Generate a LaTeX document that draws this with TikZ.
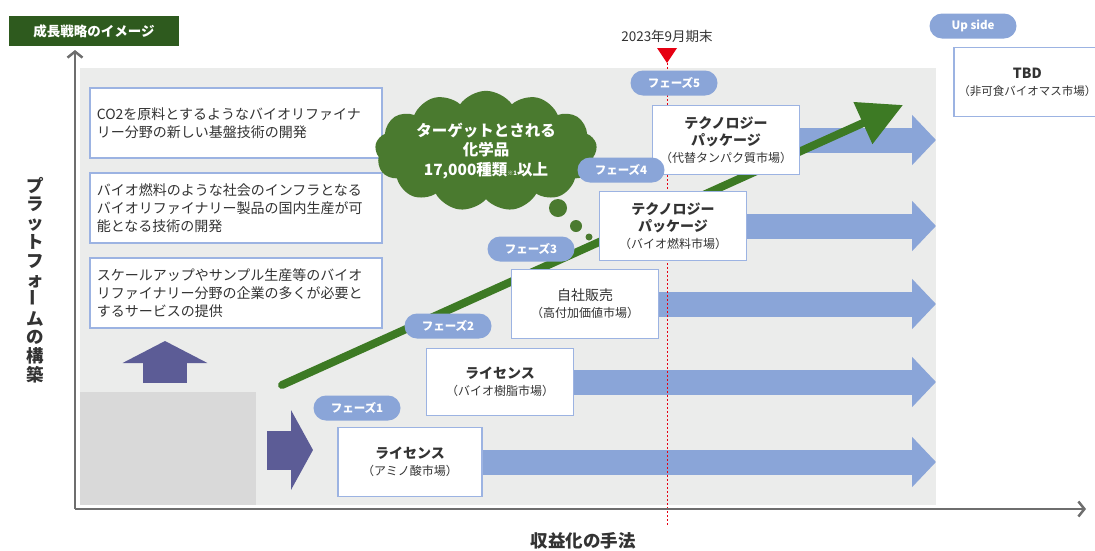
\documentclass[tikz,border=0pt]{standalone}
\usepackage{fontspec}
\setmainfont{Noto Sans CJK JP}
\usetikzlibrary{arrows.meta, shapes.symbols, positioning}

\definecolor{bggray}{HTML}{EBECEB}
\definecolor{basegray}{HTML}{D9D9D9}
\definecolor{boxline}{HTML}{9CB3E2}
\definecolor{flowblue}{HTML}{8AA5D8}
\definecolor{pushpurple}{HTML}{5C5C96}
\definecolor{growgreen}{HTML}{3D7A24}
\definecolor{cloudgreen}{HTML}{4A7A2F}
\definecolor{titlegreen}{HTML}{2E5A1E}
\definecolor{axisgray}{HTML}{6E6E6E}
\definecolor{textgray}{HTML}{333333}
\definecolor{datered}{HTML}{E60012}

\pgfdeclarelayer{back}
\pgfdeclarelayer{flows}
\pgfsetlayers{back,flows,main}

\newcommand{\fs}[2]{\fontsize{#1}{#2}\selectfont}
\newcommand{\mkt}[2]{#1\\\mdseries\fs{12}{16}#2}

\tikzset{
  goalbox/.style={draw=boxline, line width=1.6pt, fill=white, text=textgray,
    align=left, text width=278pt, inner sep=7pt, minimum height=70pt,
    anchor=north west, font=\fs{14}{18}},
  market/.style={draw=boxline, line width=1.6pt, fill=white, text=textgray,
    align=center, minimum width=147pt, minimum height=69pt, inner sep=2pt,
    font=\bfseries\fs{14}{17}},
  phase/.style={fill=flowblue, rounded corners=12.5pt, text=white,
    minimum width=87pt, minimum height=25pt, inner sep=0pt,
    font=\bfseries\fs{11.5}{12}},
  flow/.style={flowblue, line width=25pt, -{Triangle[length=24pt,width=49pt]}},
  push/.style={pushpurple, line width=#1},
  growth/.style={growgreen, line width=8pt, line cap=round,
    -{Triangle[length=44pt,width=44pt]}},
  axis/.style={axisgray, line width=2.5pt, -{Straight Barb[length=6pt,width=15pt]}},
}

\begin{document}
\begin{tikzpicture}[x=1pt,y=-1pt]
  \useasboundingbox (0,0) rectangle (1095,550);

  % Background
  \begin{pgfonlayer}{back}
    \fill[bggray] (80,68) rectangle (936,505);
    \fill[basegray] (80,392) rectangle (256,505);
  \end{pgfonlayer}

  % Axes
  \coordinate (origin) at (75,509);
  \coordinate (ytop) at (75,50);
  \coordinate (xend) at (1086,509);
  \draw[axis] (origin) -- (ytop);
  \draw[axis] (origin) -- (xend);

  \node[fill=titlegreen, text=white, minimum width=170pt, minimum height=30pt,
    inner sep=0pt, font=\bfseries\fs{13.5}{14}] (title) at (94,31) {成長戦略のイメージ};

  \node[text=textgray, align=center, font=\bfseries\fs{17.5}{18.8}] (ylabel) at (35,280)
    {プ\\ラ\\ッ\\ト\\フ\\ォ\\\rotatebox{90}{ー}\\ム\\の\\構\\築};
  \node[text=textgray, font=\bfseries\fs{17.5}{19}] (xlabel) at (583,541) {収益化の手法};

  % Platform
  \node[goalbox] (goal1) at (89,87)
    {CO2を原料とするようなバイオリファイナ\\リー分野の新しい基盤技術の開発};
  \node[goalbox] (goal2) at (89,172)
    {バイオ燃料のような社会のインフラとなる\\バイオリファイナリー製品の国内生産が可\\能となる技術の開発};
  \node[goalbox] (goal3) at (89,257)
    {スケールアップやサンプル生産等のバイオ\\リファイナリー分野の企業の多くが必要と\\するサービスの提供};

  \coordinate (up start) at (165,383);
  \coordinate (up end) at (165,341);
  \draw[push=44pt, -{Triangle[length=22pt,width=84pt]}] (up start) -- (up end);
  \coordinate (right start) at (267,450);
  \coordinate (right end) at (313,450);
  \draw[push=39pt, -{Triangle[length=22pt,width=79pt]}] (right start) -- (right end);

  % Markets
  \node[market, minimum width=144pt] (amino) at (410,462) {\mkt{ライセンス}{（アミノ酸市場）}};
  \node[market, minimum height=67pt] (resin) at (500,382) {\mkt{ライセンス}{（バイオ樹脂市場）}};
  \node[market, font=\fs{14}{17}] (sales) at (585,304) {\mkt{自社販売}{（高付加価値市場）}};
  \node[market] (fuel) at (673,226) {\mkt{テクノロジー\\パッケージ}{（バイオ燃料市場）}};
  \node[market] (protein) at (726,140) {\mkt{テクノロジー\\パッケージ}{（代替タンパク質市場）}};
  \node[market, anchor=west] (tbd) at (953,82) {TBD\\\mdseries\fs{11.5}{16}（非可食バイオマス市場）};

  \coordinate (arrowtip) at (936,0);
  \coordinate (cutoff top) at (667,63);
  \coordinate (cutoff bottom) at (667,525);
  \coordinate (growth start) at (282,385);
  \coordinate (growth end) at (903,105);
  \begin{pgfonlayer}{flows}
    \foreach \m in {amino, resin, sales, fuel, protein}
      \draw[flow] (\m) -- (\m -| arrowtip);
    \draw[datered, line width=1pt, dash pattern=on 2pt off 2pt] (cutoff top) -- (cutoff bottom);
    \draw[growth] (growth start) -- (growth end);
  \end{pgfonlayer}

  % Cut-off date
  \fill[datered] (657,48) -- (677,48) -- (667,63) -- cycle;
  \node[text=textgray, font=\fs{13.5}{14}] (datenote) at (667,36) {2023年9月期末};

  % Target
  \node[cloud, cloud puffs=13, cloud puff arc=110, aspect=2, fill=cloudgreen,
    minimum width=222pt, minimum height=112pt, inner sep=0pt, text=white,
    align=center, font=\bfseries\fs{15.5}{19.5}] (target) at (486,151)
    {ターゲットとされる\\化学品\\17,000種類{\fs{6}{6}※1}以上};
  \fill[cloudgreen] (558,208) circle (9pt);
  \fill[cloudgreen] (576,226) circle (6pt);
  \fill[cloudgreen] (589,237) circle (3.5pt);

  % Phases
  \node[phase] (phase1) at (357,408) {フェーズ1};
  \node[phase] (phase2) at (448,326) {フェーズ2};
  \node[phase] (phase3) at (531,249) {フェーズ3};
  \node[phase] (phase4) at (621,170) {フェーズ4};
  \node[phase] (phase5) at (674,83) {フェーズ5};
  \node[phase] (upside) at (973,26) {Up side};
\end{tikzpicture}
\end{document}
